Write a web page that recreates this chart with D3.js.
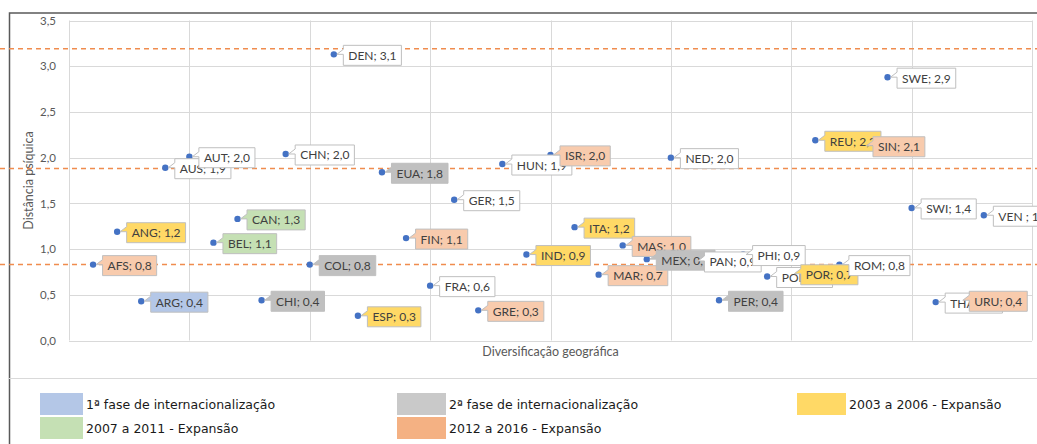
<!DOCTYPE html>
<html>
<head>
<meta charset="utf-8">
<script src="https://cdn.jsdelivr.net/npm/d3@7/dist/d3.min.js"></script>
<style>
  html, body { margin: 0; padding: 0; background: #fff; }
  svg { display: block; }
</style>
</head>
<body>
<svg id="chart" width="1037" height="444"></svg>
<script>
// Countries, ordered alphabetically along the diversification axis
const countries = ["AFS","ANG","ARG","AUS","AUT","BEL","CAN","CHI","CHN","COL",
  "DEN","ESP","EUA","FIN","FRA","GER","GRE","HUN","IND","ISR",
  "ITA","MAR","MAS","MEX","NED","PAN","PER","PHI","POL","POR",
  "REU","ROM","SIN","SWE","SWI","THA","URU","VEN"];
const diversification = [1,2,3,4,5,6,7,8,9,10,11,12,13,14,15,16,17,18,19,20,
  21,22,23,24,25,26,27,28,29,30,31,32,33,34,35,36,37,38];
const psychicDistance = [0.83,1.19,0.43,1.89,2.01,1.07,1.33,0.44,2.04,0.83,
  3.13,0.27,1.84,1.12,0.60,1.54,0.33,1.93,0.94,2.03,
  1.24,0.72,1.04,0.89,2.00,0.87,0.44,0.94,0.70,0.73,
  2.19,0.83,2.13,2.88,1.45,0.42,0.44,1.37];
// Phase of each country (index into phases), -1 = none
const phaseOf = [4,2,0,-1,-1,3,3,1,-1,1,
  -1,2,1,4,-1,-1,4,-1,2,4,
  2,4,4,1,-1,-1,1,-1,-1,2,
  2,-1,4,-1,-1,-1,4,-1];
const labelNames = countries.map(c => c === "VEN" ? "VEN " : c);

const phases = ["1ª fase de internacionalização","2ª fase de internacionalização",
  "2003 a 2006 - Expansão","2007 a 2011 - Expansão","2012 a 2016 - Expansão"];
const legendColors = ["#b4c7e7","#c9c9c9","#ffd966","#c5e0b4","#f4b183"];
const calloutColors = ["#b4c7e7","#c0c0c0","#ffd966","#c5e0b4","#f8cbad"];

const yTicks = [0,0.5,1,1.5,2,2.5,3,3.5];
const xTicks = [0,5,10,15,20,25,30,35,40];
const referenceLines = [3.19,1.88,0.83];

const svg = d3.select("#chart");
const W = 1037, H = 444;
svg.append("rect").attr("width", W).attr("height", H).attr("fill", "#fff");

const x = d3.scaleLinear().domain([0,40]).range([69,1032]);
const y = d3.scaleLinear().domain([0,3.5]).range([340.5,20.5]);
const fmt = v => d3.format(".1f")(v).replace(".", ",");

// frame and legend separator
svg.append("path").attr("d", `M9.5,${H} V13 H${W}`)
  .attr("fill","none").attr("stroke","#595959").attr("stroke-width",1.5);
svg.append("line").attr("x1",9).attr("x2",W).attr("y1",378.5).attr("y2",378.5)
  .attr("stroke","#d9d9d9").attr("stroke-width",1);

// gridlines
const grid = svg.append("g");
grid.selectAll(".hy").data(yTicks).join("line")
  .attr("x1", x(0)).attr("x2", x(40))
  .attr("y1", d => Math.round(y(d)) + 0.5).attr("y2", d => Math.round(y(d)) + 0.5)
  .attr("stroke","#d9d9d9");
grid.selectAll(".vx").data(xTicks).join("line")
  .attr("y1", y(0)).attr("y2", y(3.5))
  .attr("x1", d => Math.round(x(d)) + 0.5).attr("x2", d => Math.round(x(d)) + 0.5)
  .attr("stroke","#d9d9d9");

// y axis tick labels
const yAxis = d3.axisLeft(y).tickValues(yTicks).tickFormat(fmt).tickSize(0).tickPadding(13);
const gy = svg.append("g").attr("transform", `translate(${x(0)},0)`).call(yAxis);
gy.select(".domain").remove();
gy.selectAll("text").attr("fill","#595959").style("font-family","Lato")
  .style("font-size","11.5px");

// axis titles
svg.append("text").attr("x", (x(0)+x(40))/2).attr("y", 356)
  .attr("text-anchor","middle").attr("fill","#595959")
  .style("font-family","Lato").style("font-size","12.5px")
  .text("Diversificação geográfica");
svg.append("text").attr("transform", `translate(33,${(y(0)+y(3.5))/2}) rotate(-90)`)
  .attr("text-anchor","middle").attr("fill","#595959")
  .style("font-family","Lato").style("font-size","12.5px")
  .text("Distância psíquica");

// reference lines
svg.selectAll(".ref").data(referenceLines).join("line")
  .attr("x1", 0).attr("x2", W)
  .attr("y1", d => y(d)).attr("y2", d => y(d))
  .attr("stroke","#f08c4e").attr("stroke-width",1.5).attr("stroke-dasharray","5,4");

const data = countries.map((c,i) => ({
  name: labelNames[i], x: diversification[i], y: psychicDistance[i], phase: phaseOf[i]
}));

// points
svg.selectAll(".dot").data(data).join("circle")
  .attr("cx", d => x(d.x)).attr("cy", d => y(d.y)).attr("r", 3.2)
  .attr("fill","#4472c4");

// callout labels, drawn in alphabetical order so later ones sit on top
const labels = svg.append("g");
data.forEach(d => {
  const px = x(d.x), py = y(d.y);
  const g = labels.append("g");
  const t = g.append("text").attr("fill","#404040")
    .style("font-family","Lato").style("font-size","12px")
    .text(`${d.name}; ${fmt(d.y)}`);
  const tw = t.node().getComputedTextLength();
  const bx = px + 9.5, by = py - 9, bw = tw + 10, bh = 20;
  const fill = d.phase >= 0 ? calloutColors[d.phase] : "#ffffff";
  g.insert("path","text")
    .attr("d", `M${bx},${by} H${bx+bw} V${by+bh} H${bx} V${by+9} L${px+3},${py} L${bx},${by+4} Z`)
    .attr("fill", fill).attr("stroke","#bfbfbf").attr("stroke-width",1);
  t.attr("x", bx + 5).attr("y", by + 14.5);
});

// legend
const legendPos = [[40,393],[397,393],[797,393],[40,417],[397,417]];
const lg = svg.append("g");
phases.forEach((p,i) => {
  const [lx,ly] = legendPos[i];
  const sw = lx === 40 ? 43 : 49;
  lg.append("rect").attr("x",lx).attr("y",ly).attr("width",sw)
    .attr("height",22).attr("fill",legendColors[i]);
  lg.append("text").attr("x", lx + sw + 3).attr("y", ly + 15.5)
    .attr("fill","#1a1a1a").style("font-family","DejaVu Sans").style("font-size","12.5px")
    .text(p);
});
</script>
</body>
</html>
